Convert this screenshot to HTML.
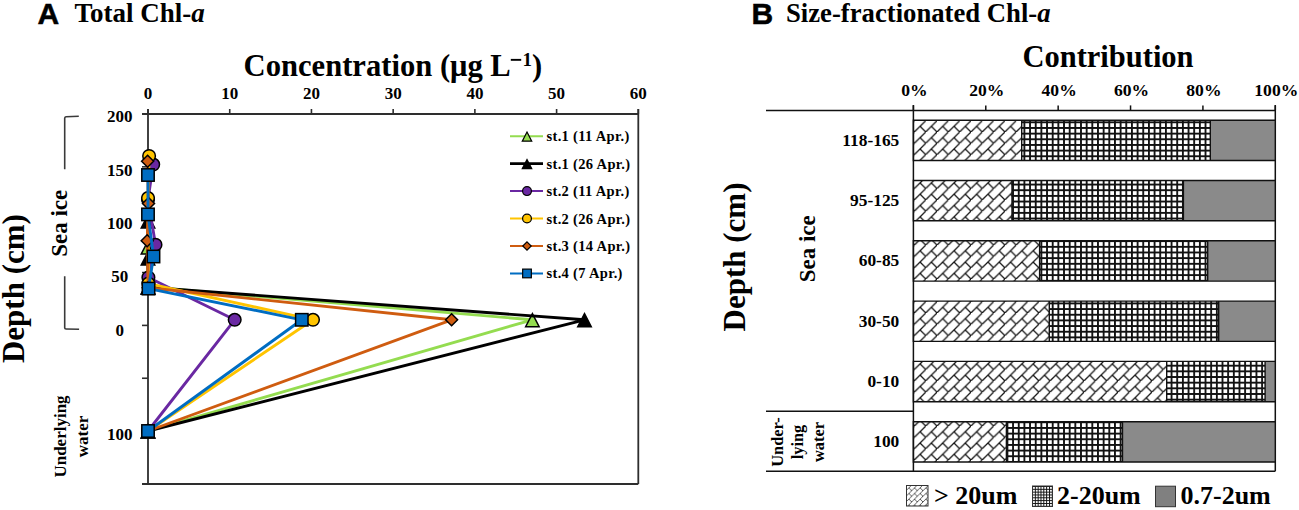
<!DOCTYPE html><html><head><meta charset="utf-8"><style>html,body{margin:0;padding:0;background:#fff;}svg{display:block;}text{font-family:"Liberation Serif",serif;font-weight:bold;}</style></head><body>
<svg width="1299" height="510" viewBox="0 0 1299 510">
<defs>
<pattern id="brick" patternUnits="userSpaceOnUse" width="11.31" height="11.31" x="914.4" y="120.7"><path d="M-1,12.31 L12.31,-1 M5.66,5.66 L11.31,11.31" stroke="#141414" stroke-width="1.3" fill="none"/></pattern>
<pattern id="grid" patternUnits="userSpaceOnUse" width="5.66" height="5.66" x="-1" y="2.5"><path d="M0,0.9 H5.66 M0.9,0 V5.66" stroke="#111" stroke-width="1.9" fill="none"/></pattern>
<pattern id="brick2" patternUnits="userSpaceOnUse" width="5.66" height="5.66" x="906" y="485"><path d="M-1,6.66 L6.66,-1 M2.83,2.83 L5.66,5.66" stroke="#333" stroke-width="0.8" fill="none"/></pattern>
<pattern id="grid2" patternUnits="userSpaceOnUse" width="2.83" height="2.83" x="1032" y="486"><path d="M0,0.5 H2.83 M0.5,0 V2.83" stroke="#111" stroke-width="1.0" fill="none"/></pattern>
</defs>
<text x="37.6" y="24.2" style="font-family:'Liberation Sans',sans-serif;font-size:30px" stroke="#000" stroke-width="0.5">A</text>
<text x="74.5" y="21.9" style="font-size:27px">Total Chl-<tspan font-style="italic">a</tspan></text>
<text x="243.6" y="76.3" style="font-size:30.6px">Concentration (μg L</text>
<rect x="510.8" y="58.9" width="10.4" height="1.9" fill="#000"/>
<text x="522.6" y="66.3" style="font-size:19px">1</text>
<text x="532" y="76.3" style="font-size:30.6px">)</text>
<path d="M142,114 H638.3 M148,109 V484 M142,484 H638.3 M638.3,109 V484" stroke="#2e2e2e" stroke-width="1.8" fill="none"/>
<path d="M148,109 V114" stroke="#2e2e2e" stroke-width="1.6"/>
<text x="148" y="99.3" text-anchor="middle" style="font-size:17px">0</text>
<path d="M229.72,109 V114" stroke="#2e2e2e" stroke-width="1.6"/>
<text x="229.72" y="99.3" text-anchor="middle" style="font-size:17px">10</text>
<path d="M311.44,109 V114" stroke="#2e2e2e" stroke-width="1.6"/>
<text x="311.44" y="99.3" text-anchor="middle" style="font-size:17px">20</text>
<path d="M393.16,109 V114" stroke="#2e2e2e" stroke-width="1.6"/>
<text x="393.16" y="99.3" text-anchor="middle" style="font-size:17px">30</text>
<path d="M474.88,109 V114" stroke="#2e2e2e" stroke-width="1.6"/>
<text x="474.88" y="99.3" text-anchor="middle" style="font-size:17px">40</text>
<path d="M556.6,109 V114" stroke="#2e2e2e" stroke-width="1.6"/>
<text x="556.6" y="99.3" text-anchor="middle" style="font-size:17px">50</text>
<path d="M638.32,109 V114" stroke="#2e2e2e" stroke-width="1.6"/>
<text x="638.32" y="99.3" text-anchor="middle" style="font-size:17px">60</text>
<path d="M142,114 H148" stroke="#2e2e2e" stroke-width="1.6"/>
<text x="119.8" y="122.4" text-anchor="middle" style="font-size:17px">200</text>
<path d="M142,166.85 H148" stroke="#2e2e2e" stroke-width="1.6"/>
<text x="119.8" y="176.2" text-anchor="middle" style="font-size:17px">150</text>
<path d="M142,219.7 H148" stroke="#2e2e2e" stroke-width="1.6"/>
<text x="119.8" y="229.2" text-anchor="middle" style="font-size:17px">100</text>
<path d="M142,272.55 H148" stroke="#2e2e2e" stroke-width="1.6"/>
<text x="119.8" y="282.2" text-anchor="middle" style="font-size:17px">50</text>
<path d="M142,325.4 H148" stroke="#2e2e2e" stroke-width="1.6"/>
<text x="119.8" y="335.5" text-anchor="middle" style="font-size:17px">0</text>
<path d="M142,378.25 H148" stroke="#2e2e2e" stroke-width="1.6"/>
<path d="M142,431.1 H148" stroke="#2e2e2e" stroke-width="1.6"/>
<text x="119.8" y="440.4" text-anchor="middle" style="font-size:17px">100</text>
<path d="M142,484 H148" stroke="#2e2e2e" stroke-width="1.6"/>
<path d="M78.8,116.2 L66,116.8 Q64.7,117 64.7,118.2 V169.2 M64.7,276.3 V327.8 Q64.7,329 66,329 L79.1,329.3" stroke="#3a3a3a" stroke-width="1.6" fill="none"/>
<text transform="translate(66.7,223.3) rotate(-90)" text-anchor="middle" style="font-size:23px">Sea ice</text>
<text transform="translate(24.3,288.6) rotate(-90)" text-anchor="middle" style="font-size:31px">Depth (cm)</text>
<text transform="translate(65.6,436.5) rotate(-90)" text-anchor="middle" style="font-size:17px">Underlying</text>
<text transform="translate(88.2,436.5) rotate(-90)" text-anchor="middle" style="font-size:17px">water</text>
<path d="M148,247 L148,287 L532.4,319.8 L148,431" stroke="#94DC50" stroke-width="2.9" fill="none" stroke-linejoin="round"/>
<path d="M148,240.9 L154.75,253.9 L141.25,253.9 Z" fill="#94DC50" stroke="#000" stroke-width="1.5" stroke-linejoin="miter"/>
<path d="M148,280.9 L154.75,293.9 L141.25,293.9 Z" fill="#94DC50" stroke="#000" stroke-width="1.5" stroke-linejoin="miter"/>
<path d="M532.4,313.7 L539.15,326.7 L525.65,326.7 Z" fill="#94DC50" stroke="#000" stroke-width="1.5" stroke-linejoin="miter"/>
<path d="M148,424.9 L154.75,437.9 L141.25,437.9 Z" fill="#94DC50" stroke="#000" stroke-width="1.5" stroke-linejoin="miter"/>
<path d="M148,221 L148,258 L148,287.2 L584.5,319.8 L148,431" stroke="#000000" stroke-width="2.9" fill="none" stroke-linejoin="round"/>
<path d="M148,214.9 L154.75,227.9 L141.25,227.9 Z" fill="#000000" stroke="#000" stroke-width="1.5" stroke-linejoin="miter"/>
<path d="M148,251.9 L154.75,264.9 L141.25,264.9 Z" fill="#000000" stroke="#000" stroke-width="1.5" stroke-linejoin="miter"/>
<path d="M148,281.1 L154.75,294.1 L141.25,294.1 Z" fill="#000000" stroke="#000" stroke-width="1.5" stroke-linejoin="miter"/>
<path d="M584.5,313.7 L591.25,326.7 L577.75,326.7 Z" fill="#000000" stroke="#000" stroke-width="1.5" stroke-linejoin="miter"/>
<path d="M148,424.9 L154.75,437.9 L141.25,437.9 Z" fill="#000000" stroke="#000" stroke-width="1.5" stroke-linejoin="miter"/>
<path d="M153.2,164.6 L148,199.5 L155.5,244.7 L148.4,277.5 L234.7,319.8 L148,431" stroke="#6A28A2" stroke-width="2.9" fill="none" stroke-linejoin="round"/>
<circle cx="153.2" cy="164.6" r="6.3" fill="#6A28A2" stroke="#000" stroke-width="1.5"/>
<circle cx="148" cy="199.5" r="6.3" fill="#6A28A2" stroke="#000" stroke-width="1.5"/>
<circle cx="155.5" cy="244.7" r="6.3" fill="#6A28A2" stroke="#000" stroke-width="1.5"/>
<circle cx="148.4" cy="277.5" r="6.3" fill="#6A28A2" stroke="#000" stroke-width="1.5"/>
<circle cx="234.7" cy="319.8" r="6.3" fill="#6A28A2" stroke="#000" stroke-width="1.5"/>
<circle cx="148" cy="431" r="6.3" fill="#6A28A2" stroke="#000" stroke-width="1.5"/>
<path d="M149.1,156 L148,198.1 L148.4,283.6 L313,319.8 L148,431" stroke="#FFC400" stroke-width="2.9" fill="none" stroke-linejoin="round"/>
<circle cx="149.1" cy="156" r="6.3" fill="#FFC400" stroke="#000" stroke-width="1.5"/>
<circle cx="148" cy="198.1" r="6.3" fill="#FFC400" stroke="#000" stroke-width="1.5"/>
<circle cx="148.4" cy="283.6" r="6.3" fill="#FFC400" stroke="#000" stroke-width="1.5"/>
<circle cx="313" cy="319.8" r="6.3" fill="#FFC400" stroke="#000" stroke-width="1.5"/>
<circle cx="148" cy="431" r="6.3" fill="#FFC400" stroke="#000" stroke-width="1.5"/>
<path d="M147.6,161.2 L148.5,203.5 L147.2,240.8 L148.2,287.7 L451.6,319.8 L148,431" stroke="#CF5C10" stroke-width="2.9" fill="none" stroke-linejoin="round"/>
<path d="M147.6,155.2 L153.6,161.2 L147.6,167.2 L141.6,161.2 Z" fill="#CF5C10" stroke="#000" stroke-width="1.5"/>
<path d="M148.5,197.5 L154.5,203.5 L148.5,209.5 L142.5,203.5 Z" fill="#CF5C10" stroke="#000" stroke-width="1.5"/>
<path d="M147.2,234.8 L153.2,240.8 L147.2,246.8 L141.2,240.8 Z" fill="#CF5C10" stroke="#000" stroke-width="1.5"/>
<path d="M148.2,281.7 L154.2,287.7 L148.2,293.7 L142.2,287.7 Z" fill="#CF5C10" stroke="#000" stroke-width="1.5"/>
<path d="M451.6,313.8 L457.6,319.8 L451.6,325.8 L445.6,319.8 Z" fill="#CF5C10" stroke="#000" stroke-width="1.5"/>
<path d="M148,425 L154,431 L148,437 L142,431 Z" fill="#CF5C10" stroke="#000" stroke-width="1.5"/>
<path d="M148,175 L148,214.4 L153.5,256.5 L148.5,288.6 L301.8,319.8 L148,431" stroke="#006DC2" stroke-width="2.9" fill="none" stroke-linejoin="round"/>
<rect x="141.8" y="168.8" width="12.4" height="12.4" fill="#006DC2" stroke="#000" stroke-width="1.5"/>
<rect x="141.8" y="208.2" width="12.4" height="12.4" fill="#006DC2" stroke="#000" stroke-width="1.5"/>
<rect x="147.3" y="250.3" width="12.4" height="12.4" fill="#006DC2" stroke="#000" stroke-width="1.5"/>
<rect x="142.3" y="282.4" width="12.4" height="12.4" fill="#006DC2" stroke="#000" stroke-width="1.5"/>
<rect x="295.6" y="313.6" width="12.4" height="12.4" fill="#006DC2" stroke="#000" stroke-width="1.5"/>
<rect x="141.8" y="424.8" width="12.4" height="12.4" fill="#006DC2" stroke="#000" stroke-width="1.5"/>
<path d="M510,136.2 H543" stroke="#94DC50" stroke-width="2"/>
<path d="M527,132.05 L531.73,141.15 L522.27,141.15 Z" fill="#94DC50" stroke="#000" stroke-width="1.2" stroke-linejoin="miter"/>
<text x="546.5" y="141.2" style="font-size:14.5px;letter-spacing:0.33px">st.1 (11 Apr.)</text>
<path d="M510,163.65 H543" stroke="#000000" stroke-width="2.6"/>
<path d="M527,159.5 L531.73,168.6 L522.27,168.6 Z" fill="#000000" stroke="#000" stroke-width="1.2" stroke-linejoin="miter"/>
<text x="546.5" y="168.65" style="font-size:14.5px;letter-spacing:0.33px">st.1 (26 Apr.)</text>
<path d="M510,191.1 H543" stroke="#6A28A2" stroke-width="2"/>
<circle cx="527" cy="191.1" r="4.41" fill="#6A28A2" stroke="#000" stroke-width="1.2"/>
<text x="546.5" y="196.1" style="font-size:14.5px;letter-spacing:0.33px">st.2 (11 Apr.)</text>
<path d="M510,218.55 H543" stroke="#FFC400" stroke-width="2"/>
<circle cx="527" cy="218.55" r="4.41" fill="#FFC400" stroke="#000" stroke-width="1.2"/>
<text x="546.5" y="223.55" style="font-size:14.5px;letter-spacing:0.33px">st.2 (26 Apr.)</text>
<path d="M510,246 H543" stroke="#CF5C10" stroke-width="2"/>
<path d="M527,241.8 L531.2,246 L527,250.2 L522.8,246 Z" fill="#CF5C10" stroke="#000" stroke-width="1.2"/>
<text x="546.5" y="251" style="font-size:14.5px;letter-spacing:0.33px">st.3 (14 Apr.)</text>
<path d="M510,273.45 H543" stroke="#006DC2" stroke-width="2"/>
<rect x="522.66" y="269.11" width="8.68" height="8.68" fill="#006DC2" stroke="#000" stroke-width="1.2"/>
<text x="546.5" y="278.45" style="font-size:14.5px;letter-spacing:0.33px">st.4 (7 Apr.)</text>
<text x="751.5" y="23.9" style="font-family:'Liberation Sans',sans-serif;font-size:30px" stroke="#000" stroke-width="0.5">B</text>
<text x="786" y="21.9" style="font-size:26.7px">Size-fractionated Chl-<tspan font-style="italic">a</tspan></text>
<text x="1108" y="66.6" text-anchor="middle" style="font-size:30.5px">Contribution</text>
<text x="914.4" y="95.8" text-anchor="middle" style="font-size:17.6px">0%</text>
<path d="M913.4,105.4 V110.5" stroke="#111" stroke-width="1.5"/>
<text x="986.78" y="95.8" text-anchor="middle" style="font-size:17.6px">20%</text>
<path d="M985.78,105.4 V110.5" stroke="#111" stroke-width="1.5"/>
<text x="1059.16" y="95.8" text-anchor="middle" style="font-size:17.6px">40%</text>
<path d="M1058.16,105.4 V110.5" stroke="#111" stroke-width="1.5"/>
<text x="1131.54" y="95.8" text-anchor="middle" style="font-size:17.6px">60%</text>
<path d="M1130.54,105.4 V110.5" stroke="#111" stroke-width="1.5"/>
<text x="1203.92" y="95.8" text-anchor="middle" style="font-size:17.6px">80%</text>
<path d="M1202.92,105.4 V110.5" stroke="#111" stroke-width="1.5"/>
<text x="1276.3" y="95.8" text-anchor="middle" style="font-size:17.6px">100%</text>
<path d="M1275.3,105.4 V110.5" stroke="#111" stroke-width="1.5"/>
<path d="M766,110.5 H1275.3 M913.4,105 V471.2 M1275.3,105 V471.2 M766,471.2 H1275.3 M766,411.3 H913.4" stroke="#111" stroke-width="1.5" fill="none"/>
<rect x="913.4" y="120.2" width="108.3" height="40.3" fill="url(#brick)"/>
<rect x="1021.7" y="120.2" width="188.6" height="40.3" fill="url(#grid)"/>
<rect x="1210.3" y="120.2" width="65" height="40.3" fill="#8a8a8a"/>
<path d="M913.4,120.2 H1275.3 V160.5 H913.4 Z M1021.7,120.2 V160.5 M1210.3,120.2 V160.5" stroke="#111" stroke-width="1.4" fill="none"/>
<text x="899.3" y="145.75" text-anchor="end" style="font-size:17.4px">118-165</text>
<rect x="913.4" y="180.5" width="98.6" height="40.3" fill="url(#brick)"/>
<rect x="1012" y="180.5" width="171.4" height="40.3" fill="url(#grid)"/>
<rect x="1183.4" y="180.5" width="91.9" height="40.3" fill="#8a8a8a"/>
<path d="M913.4,180.5 H1275.3 V220.8 H913.4 Z M1012,180.5 V220.8 M1183.4,180.5 V220.8" stroke="#111" stroke-width="1.4" fill="none"/>
<text x="899.3" y="206.05" text-anchor="end" style="font-size:17.4px">95-125</text>
<rect x="913.4" y="240.8" width="126.2" height="40.3" fill="url(#brick)"/>
<rect x="1039.6" y="240.8" width="168.1" height="40.3" fill="url(#grid)"/>
<rect x="1207.7" y="240.8" width="67.6" height="40.3" fill="#8a8a8a"/>
<path d="M913.4,240.8 H1275.3 V281.1 H913.4 Z M1039.6,240.8 V281.1 M1207.7,240.8 V281.1" stroke="#111" stroke-width="1.4" fill="none"/>
<text x="899.3" y="266.35" text-anchor="end" style="font-size:17.4px">60-85</text>
<rect x="913.4" y="301.1" width="135.9" height="40.3" fill="url(#brick)"/>
<rect x="1049.3" y="301.1" width="169.4" height="40.3" fill="url(#grid)"/>
<rect x="1218.7" y="301.1" width="56.6" height="40.3" fill="#8a8a8a"/>
<path d="M913.4,301.1 H1275.3 V341.4 H913.4 Z M1049.3,301.1 V341.4 M1218.7,301.1 V341.4" stroke="#111" stroke-width="1.4" fill="none"/>
<text x="899.3" y="326.65" text-anchor="end" style="font-size:17.4px">30-50</text>
<rect x="913.4" y="361.4" width="253.3" height="40.3" fill="url(#brick)"/>
<rect x="1166.7" y="361.4" width="98.4" height="40.3" fill="url(#grid)"/>
<rect x="1265.1" y="361.4" width="10.2" height="40.3" fill="#8a8a8a"/>
<path d="M913.4,361.4 H1275.3 V401.7 H913.4 Z M1166.7,361.4 V401.7 M1265.1,361.4 V401.7" stroke="#111" stroke-width="1.4" fill="none"/>
<text x="899.3" y="386.95" text-anchor="end" style="font-size:17.4px">0-10</text>
<rect x="913.4" y="421.7" width="93" height="40.3" fill="url(#brick)"/>
<rect x="1006.4" y="421.7" width="116.1" height="40.3" fill="url(#grid)"/>
<rect x="1122.5" y="421.7" width="152.8" height="40.3" fill="#8a8a8a"/>
<path d="M913.4,421.7 H1275.3 V462 H913.4 Z M1006.4,421.7 V462 M1122.5,421.7 V462" stroke="#111" stroke-width="1.4" fill="none"/>
<text x="899.3" y="447.25" text-anchor="end" style="font-size:17.4px">100</text>
<text transform="translate(744.6,257) rotate(-90)" text-anchor="middle" style="font-size:31px">Depth (cm)</text>
<text transform="translate(815,248.8) rotate(-90)" text-anchor="middle" style="font-size:23px">Sea ice</text>
<text transform="translate(783.3,442) rotate(-90)" text-anchor="middle" style="font-size:16.4px">Under-</text>
<text transform="translate(803,442) rotate(-90)" text-anchor="middle" style="font-size:16.4px">lying</text>
<text transform="translate(823.5,442) rotate(-90)" text-anchor="middle" style="font-size:16.4px">water</text>
<rect x="906.5" y="485.5" width="21.5" height="20.5" fill="url(#brick2)" stroke="#333" stroke-width="1"/>
<text x="934" y="504.3" style="font-size:26px">&gt; 20um</text>
<rect x="1032.5" y="486" width="20" height="20.5" fill="url(#grid2)" stroke="#333" stroke-width="1"/>
<text x="1057" y="504.3" style="font-size:26px">2-20um</text>
<rect x="1155.5" y="486.2" width="20" height="20.5" fill="#808080" stroke="#333" stroke-width="1"/>
<text x="1180.5" y="504.3" style="font-size:26px">0.7-2um</text>
</svg></body></html>
